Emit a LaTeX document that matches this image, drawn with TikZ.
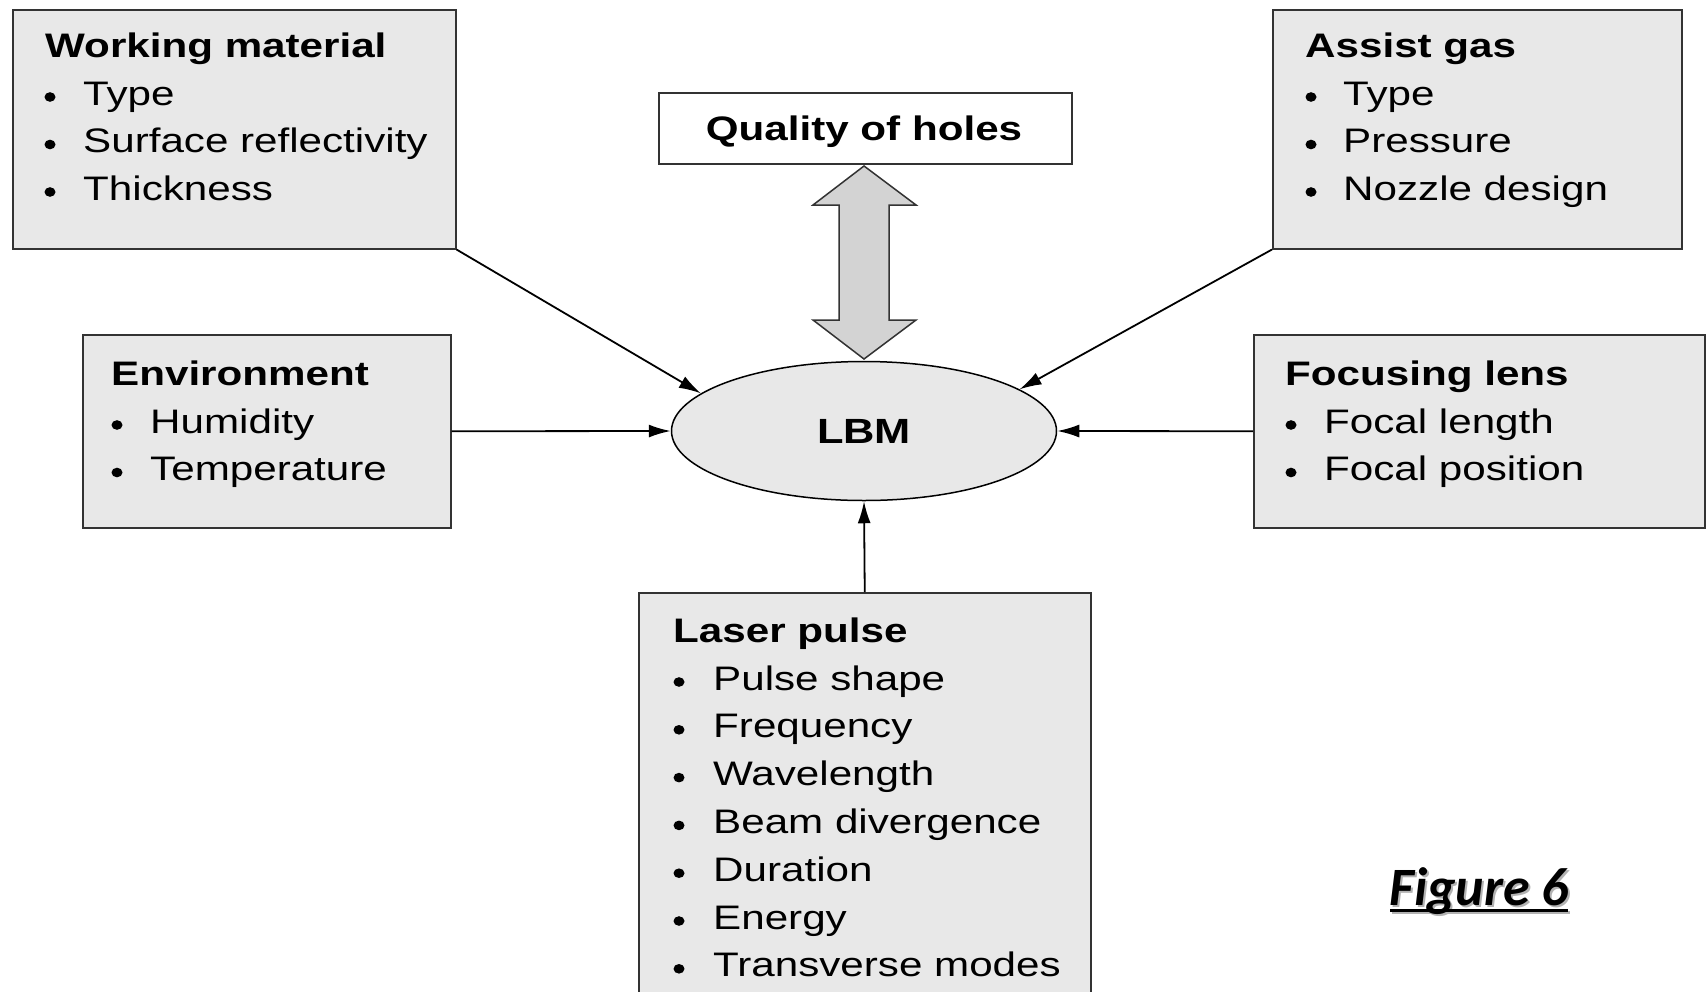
\documentclass[tikz,border=0pt]{standalone}
\usepackage{fontspec}
\setmainfont{Liberation Sans}[FakeStretch=1.24]
\newfontfamily\figfont{Carlito}
\usetikzlibrary{shapes.geometric,arrows.meta}
\definecolor{boxfill}{HTML}{E8E8E8}
\definecolor{arrfill}{HTML}{D3D3D3}
\definecolor{edge}{HTML}{333333}
\begin{document}
\begin{tikzpicture}[x=1pt,y=-1pt,
  box/.style={draw=edge, line width=1.5pt, fill=boxfill, rectangle, inner sep=0pt, anchor=north west},
  ttl/.style={anchor=base west, inner sep=0pt, font=\fontsize{34}{40}\selectfont\bfseries},
  itm/.style={anchor=base west, inner sep=0pt, font=\fontsize{34}{40}\selectfont},
  dot/.style={fill=black},
  conn/.style={draw=black, line width=1.8pt, -{Latex[length=22pt,width=13pt]}},
  figtxt/.style={anchor=base west, inner sep=0pt, font=\figfont\bfseries\itshape\fontsize{54}{60}\selectfont},
]
\useasboundingbox (0,0) rectangle (1708,991);

% boxes
\node[box, minimum width=443pt, minimum height=239pt] (wm) at (12,9) {};
\node[box, minimum width=409pt, minimum height=239pt] (ag) at (1272,9) {};
\node[box, minimum width=368pt, minimum height=193pt] (env) at (82,334) {};
\node[box, minimum width=451pt, minimum height=193pt] (fl) at (1253,334) {};
\node[box, minimum width=452pt, minimum height=420pt] (lp) at (638,592) {};
\node[draw=edge, line width=1.5pt, fill=white, rectangle, inner sep=0pt, anchor=north west,
      minimum width=413pt, minimum height=71pt] (qh) at (658,92) {};
\node[ellipse, draw=black, line width=1.5pt, fill=boxfill, inner sep=0pt,
      minimum width=385pt, minimum height=139pt] (lbm) at (864,431) {};

% central texts
\node[anchor=base, inner sep=0pt, font=\fontsize{34}{40}\selectfont\bfseries] (qht) at (864,140) {Quality of holes};
\node[anchor=base, inner sep=0pt, font=\fontsize{35}{40}\selectfont\bfseries] (lbmt) at (864,443) {LBM};

% Working material
\node[ttl] (wmt) at (45,57) {Working material};
\foreach \t [count=\i from 0] in {Type, Surface reflectivity, Thickness} {
  \fill[dot] (50,{105+47.5*\i-8}) ellipse (5.5pt and 4.8pt);
  \node[itm] (wm-\i) at (83,{105+47.5*\i}) {\t};
}
% Assist gas
\node[ttl] (agt) at (1305,57) {Assist gas};
\foreach \t [count=\i from 0] in {Type, Pressure, Nozzle design} {
  \fill[dot] (1311,{105+47.5*\i-8}) ellipse (5.5pt and 4.8pt);
  \node[itm] (ag-\i) at (1343,{105+47.5*\i}) {\t};
}
% Environment
\node[ttl] (envt) at (111,385) {Environment};
\foreach \t [count=\i from 0] in {Humidity, Temperature} {
  \fill[dot] (117,{433+47.5*\i-8}) ellipse (5.5pt and 4.8pt);
  \node[itm] (env-\i) at (150,{433+47.5*\i}) {\t};
}
% Focusing lens
\node[ttl] (flt) at (1285,385) {Focusing lens};
\foreach \t [count=\i from 0] in {Focal length, Focal position} {
  \fill[dot] (1291,{433+47.5*\i-8}) ellipse (5.5pt and 4.8pt);
  \node[itm] (fl-\i) at (1324,{433+47.5*\i}) {\t};
}
% Laser pulse
\node[ttl] (lpt) at (673,642) {Laser pulse};
\foreach \t [count=\i from 0] in {Pulse shape, Frequency, Wavelength, Beam divergence, Duration, Energy, Transverse modes} {
  \fill[dot] (679,{690+47.8*\i-8}) ellipse (5.5pt and 4.8pt);
  \node[itm] (lp-\i) at (713,{690+47.8*\i}) {\t};
}

% connectors
\draw[conn] (wm.south east) -- (lbm.167);
\draw[conn] (ag.south west) -- (lbm.15);
\draw[conn] (env.east) -- (lbm.west);
\draw[conn] (fl.west) -- (lbm.east);
\draw[conn] (lp.north) -- (lbm.south);

% double block arrow between quality and LBM
\draw[draw=edge, line width=1.5pt, fill=arrfill, line join=miter]
  (864,166) -- (813,205) -- (839,205) -- (839,320) -- (813,320) -- (864,359)
  -- (916,320) -- (889,320) -- (889,205) -- (916,205) -- cycle;

% Figure label with shadow
\node[figtxt, text=black!30] (figsh) at (1391,907.5) {Figure 6};
\draw[black!30, line width=3pt] (1392,912.5) -- (1570,912.5);
\node[figtxt, text=black] (fig) at (1389,905) {Figure 6};
\draw[black, line width=3pt] (1390,910) -- (1568,910);
\end{tikzpicture}
\end{document}
